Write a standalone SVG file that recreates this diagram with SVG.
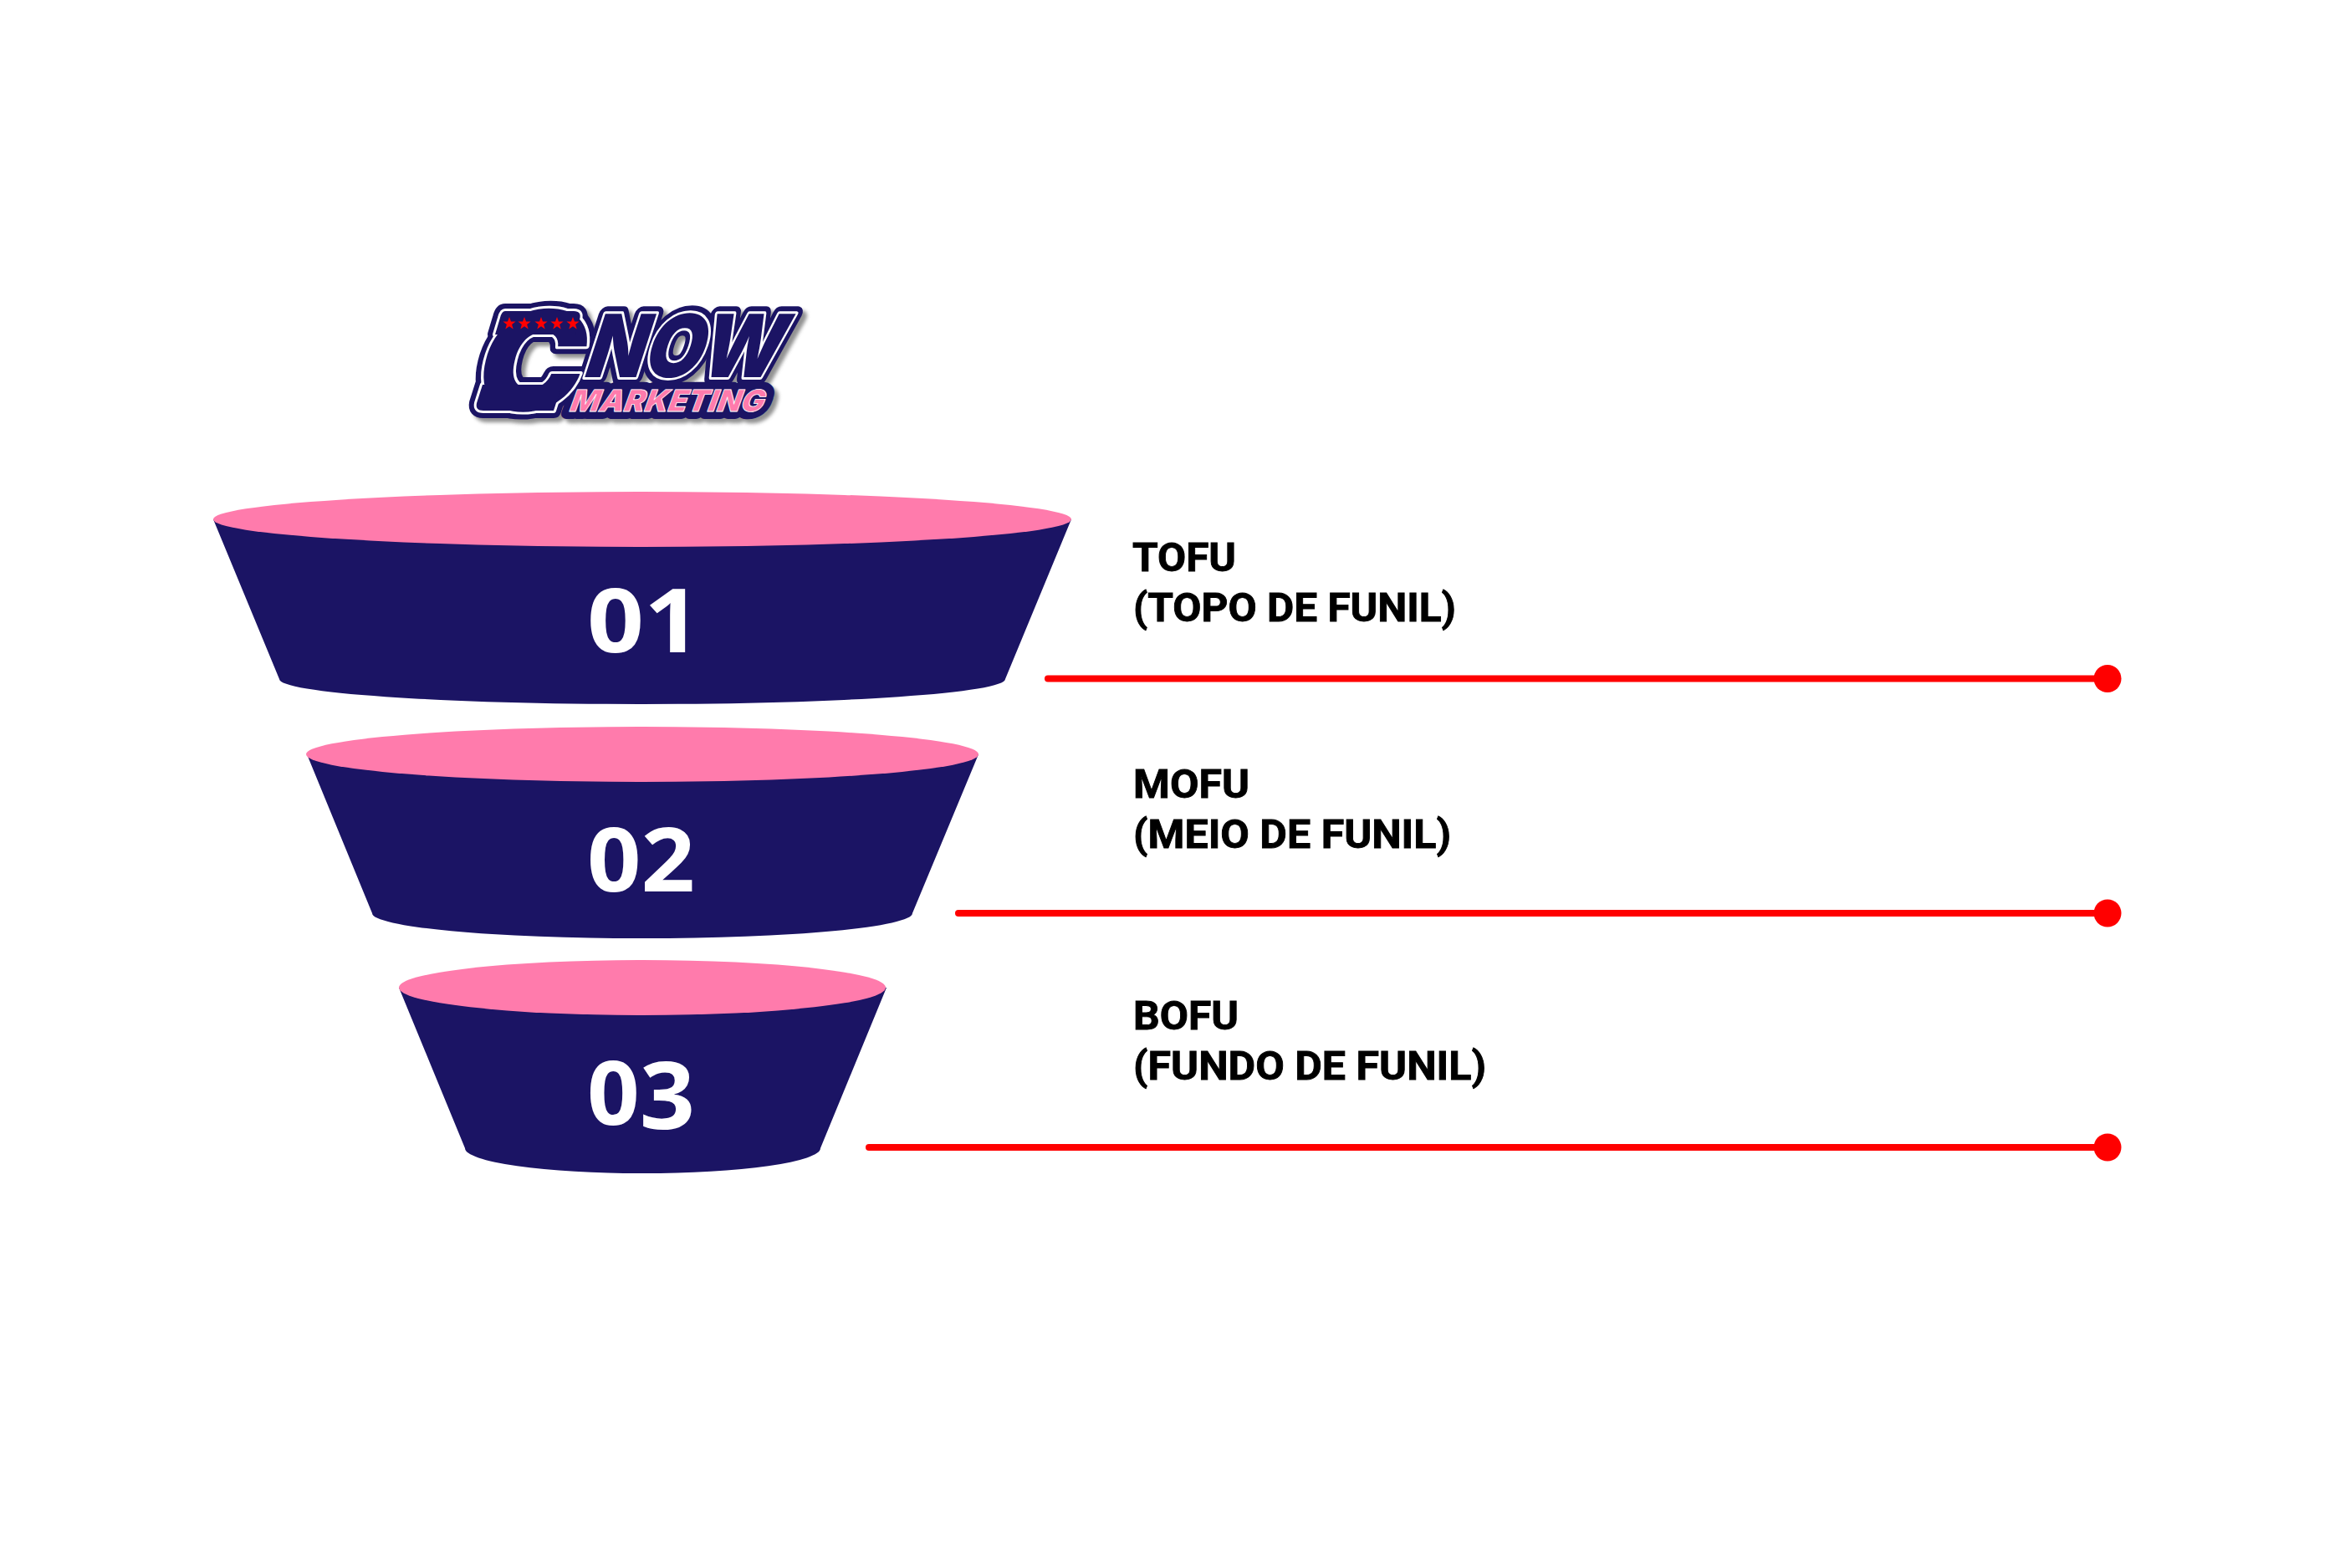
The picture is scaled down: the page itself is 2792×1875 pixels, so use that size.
<svg xmlns="http://www.w3.org/2000/svg" width="2792" height="1875" viewBox="0 0 2792 1875">
<style>
.body{fill:#1b1464}
.top{fill:#ff7bac}
.num{font-family:"Open Sans","Noto Sans",sans-serif;font-weight:700;font-size:106px;fill:#fff}
.lab{font-family:"Roboto","Liberation Sans",sans-serif;font-weight:700;font-size:48px;fill:#000;stroke:#000;stroke-width:0.9}
.line{stroke:#ff0000;stroke-width:8;stroke-linecap:round;fill:none}
.dot{fill:#ff0000}
.lg{font-family:"Inter","Liberation Sans",sans-serif;font-weight:900}
.star{fill:#ff0000}
</style>
<defs>
<polygon id="s" points="0,-8 2,-2.5 7.6,-2.5 3.1,1 4.7,6.5 0,3.2 -4.7,6.5 -3.1,1 -7.6,-2.5 -2,-2.5"/>
<filter id="b" x="-10%" y="-10%" width="120%" height="120%"><feGaussianBlur stdDeviation="2"/></filter>
<g id="mark">
<text transform="translate(560 491) skewX(-14)" font-size="166" textLength="128" lengthAdjust="spacingAndGlyphs">C</text>
<path d="M604 372H686Q696 372 693 382L688 400H592L598 380Q600 372 604 372Z"/>
<path d="M577 460L570 482Q568 491 578 491H662L672 460Z"/>
<text transform="translate(695 451) skewX(-18)" font-size="104" textLength="234" lengthAdjust="spacingAndGlyphs">NOW</text>
</g>
<text id="mk" transform="translate(679 492) skewX(-20)" font-size="36" textLength="232" lengthAdjust="spacingAndGlyphs">MARKETING</text>
</defs>
<rect width="2792" height="1875" fill="#fff"/>
<g id="logo">
<g class="lg" stroke-linejoin="round">
<g filter="url(#b)" fill="#777" stroke="#777" stroke-width="18" opacity="0.8" transform="translate(5 5)">
<use href="#mark"/><use href="#mk"/>
</g>
<g fill="#1b1464" stroke="#1b1464" stroke-width="18">
<use href="#mark"/><use href="#mk"/>
</g>
<use href="#mark" fill="#fff" stroke="#fff" stroke-width="6"/>
<use href="#mark" fill="#1b1464"/>
<use href="#mk" fill="#ff7bac" stroke="#fff" stroke-width="0.8"/>
</g>
<g class="star">
<use href="#s" x="609" y="387"/><use href="#s" x="627" y="387"/><use href="#s" x="647" y="387"/><use href="#s" x="666" y="387"/><use href="#s" x="685" y="387"/>
</g>
</g>
<g id="funnel-1">
<path class="body" d="M255 621 L334 812 A434 30 0 0 0 1202 812 L1281 621Z"/>
<ellipse class="top" cx="768" cy="621" rx="513" ry="33"/>
<text class="num" x="702" y="780" textLength="136" lengthAdjust="spacingAndGlyphs">01</text>
</g>
<g id="funnel-2">
<path class="body" d="M367 902 L445 1092 A323 30 0 0 0 1091 1092 L1170 902Z"/>
<ellipse class="top" cx="768" cy="902" rx="402" ry="33"/>
<text class="num" x="702" y="1066" textLength="129" lengthAdjust="spacingAndGlyphs">02</text>
</g>
<g id="funnel-3">
<path class="body" d="M477 1181 L556 1373 A212 30 0 0 0 981 1373 L1060 1181Z"/>
<ellipse class="top" cx="768" cy="1181" rx="291" ry="33"/>
<text class="num" x="702" y="1345" textLength="129" lengthAdjust="spacingAndGlyphs">0<tspan dy="5" font-size="112">3</tspan></text>
</g>
<g id="connectors">
<path class="line" d="M1253 811.5H2520"/>
<path class="line" d="M1146 1092H2520"/>
<path class="line" d="M1039 1372H2520"/>
<circle class="dot" cx="2520" cy="811.5" r="16.5"/>
<circle class="dot" cx="2520" cy="1092" r="16.5"/>
<circle class="dot" cx="2520" cy="1372" r="16.5"/>
</g>
<g id="label-1">
<text class="lab" x="1354" y="683" textLength="124" lengthAdjust="spacingAndGlyphs">TOFU</text>
<text class="lab" x="1355" y="743" textLength="386" lengthAdjust="spacingAndGlyphs">(TOPO DE FUNIL)</text>
</g>
<g id="label-2">
<text class="lab" x="1355" y="953.5" textLength="139" lengthAdjust="spacingAndGlyphs">MOFU</text>
<text class="lab" x="1355" y="1014" textLength="380" lengthAdjust="spacingAndGlyphs">(MEIO DE FUNIL)</text>
</g>
<g id="label-3">
<text class="lab" x="1355" y="1231" textLength="126" lengthAdjust="spacingAndGlyphs">BOFU</text>
<text class="lab" x="1355" y="1291" textLength="422" lengthAdjust="spacingAndGlyphs">(FUNDO DE FUNIL)</text>
</g>
</svg>
